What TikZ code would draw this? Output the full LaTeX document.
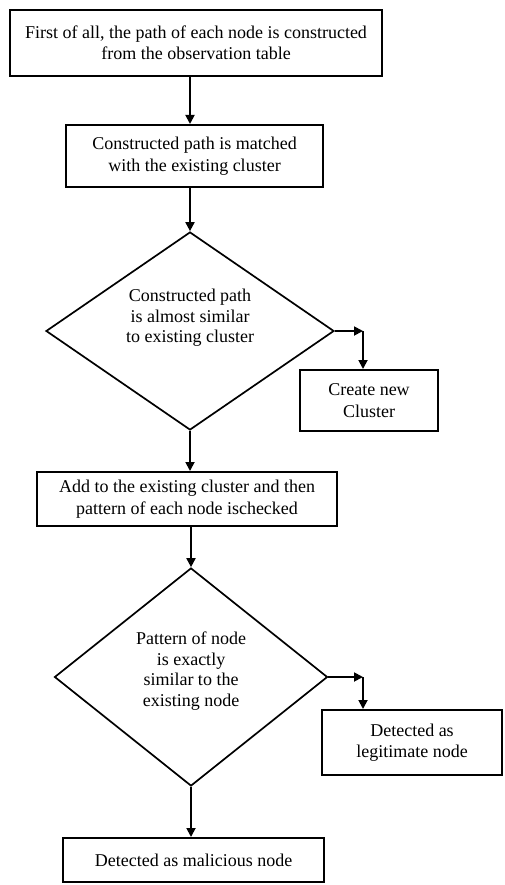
\documentclass[tikz,border=0pt]{standalone}
\usepackage{fontspec}
\setmainfont{Liberation Serif}
\usetikzlibrary{shapes.geometric,arrows.meta}
\begin{document}
\begin{tikzpicture}[x=1pt,y=-1pt,
  box/.style={draw,line width=2pt,inner sep=0pt,align=center,font=\rmfamily\fontsize{18}{21.5}\selectfont},
  dia/.style={draw,diamond,line width=1.7pt,inner sep=0pt},
  dtext/.style={font=\rmfamily\fontsize{18}{20.5}\selectfont,align=center,inner sep=0pt},
  arr/.style={line width=1.8pt,-{Triangle[length=9pt,width=9pt]}}]
\useasboundingbox (0,0) rectangle (504,885);
\node[box,minimum width=372pt,minimum height=66pt] (b1) at (196,43)
  {First of all, the path of each node is constructed\\from the observation table};
\node[box,minimum width=257pt,minimum height=62pt] (b2) at (194.5,156)
  {Constructed path is matched\\with the existing cluster};
\node[dia,minimum width=288pt,minimum height=198pt] (d1) at (190,331) {};
\node[dtext] (t1) at (190,318)
  {Constructed path\\is almost similar\\to existing cluster};
\node[box,minimum width=138pt,minimum height=61pt] (b3) at (369,400.5)
  {Create new\\Cluster};
\node[box,minimum width=300pt,minimum height=54pt] (b4) at (187,499)
  {Add to the existing cluster and then\\pattern of each node ischecked};
\node[dia,minimum width=273pt,minimum height=218pt] (d2) at (191,677) {};
\node[dtext] (t2) at (191,671)
  {Pattern of node\\is exactly\\similar to the\\existing node};
\node[box,minimum width=180pt,minimum height=65pt] (b5) at (412,742.5)
  {Detected as\\legitimate node};
\node[box,minimum width=261pt,minimum height=44pt] (b6) at (193.5,860)
  {Detected as malicious node};
\coordinate (c1) at (363,331);
\coordinate (c2) at (363,677);
\draw[arr] (b1.south -| d1.north) -- (d1.north |- b2.north);
\draw[arr] (b2.south -| d1.north) -- (d1.north);
\draw[arr] (d1.south) -- (d1.south |- b4.north);
\draw[arr] (b4.south -| d2.north) -- (d2.north);
\draw[arr] (d2.south) -- (d2.south |- b6.north);
\draw[arr] (d1.east) -- (c1);
\draw[arr] (c1) -- (c1 |- b3.north);
\draw[arr] (d2.east) -- (c2);
\draw[arr] (c2) -- (c2 |- b5.north);
\end{tikzpicture}
\end{document}
